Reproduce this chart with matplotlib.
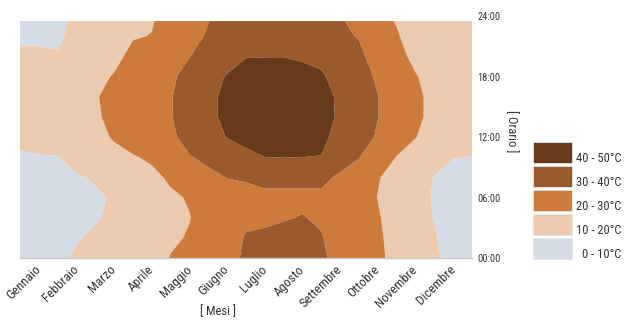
import numpy as np
import matplotlib
matplotlib.use("Agg")
import matplotlib.pyplot as plt
from matplotlib import font_manager
from matplotlib.patches import Rectangle

# pick a narrow sans if one is installed
installed = {(f.name, f.stretch) for f in font_manager.fontManager.ttflist}
names = {n for n, _ in installed}
for fam in ["Liberation Sans Narrow", "Roboto Condensed", "Open Sans Condensed"]:
    if fam in names:
        plt.rcParams["font.family"] = [fam, "DejaVu Sans"]
        break
else:
    plt.rcParams["font.family"] = ["DejaVu Sans"]
    if ("DejaVu Sans", "condensed") in installed:
        plt.rcParams["font.stretch"] = "condensed"

# Temperature (°C) by time of year and hour of day
month_pos = [0, 0.5, 1, 1.5, 2, 2.5, 3, 3.5, 4, 4.5, 5, 5.5, 6,
             6.5, 7, 7.5, 8, 8.5, 9, 9.5, 10, 10.5, 11, 11.5, 12]
hours = [0, 2, 4, 6, 8, 10, 12, 14, 16, 18, 20, 22, 23.5]

# one hourly profile per month position
temp_profiles = [
    [7, 6, 5, 5, 6, 9, 12, 14, 15, 13, 11, 9, 8],
    [7, 6, 5, 5, 6, 9.5, 13, 15, 16, 14, 11, 9, 8],
    [8, 7, 6, 6, 7, 9.8, 13, 15, 16, 14, 10.5, 9, 8.5],
    [11, 9.5, 8, 8, 9.5, 12, 15, 17, 17, 16, 14, 12, 11.5],
    [12, 11, 9.5, 9.3, 10.5, 14, 17, 19, 19.5, 18, 16, 14, 13],
    [13, 12, 11, 10.5, 12, 17, 21, 22, 22, 20.5, 18, 16, 15],
    [15, 14, 13.5, 14, 16, 19.5, 23, 25, 25, 24, 22, 19.5, 18],
    [16, 15.5, 15.5, 16.5, 18.5, 21, 25, 28, 28.5, 27, 24.5, 20.2, 19.5],
    [20.3, 19, 18.5, 19, 21, 25, 28.5, 29.5, 29.5, 28.5, 27, 24, 23],
    [21.5, 20.5, 19.8, 20.5, 24, 29.5, 33, 34, 34, 33, 29.8, 27, 26],
    [23, 22.5, 22.5, 24, 28, 32, 36.5, 38, 38, 37, 34, 31, 29.8],
    [28, 26.5, 25.5, 26.5, 30.2, 35, 40.3, 42, 42, 40.5, 37, 34, 33],
    [31, 30.6, 28.5, 28.5, 30.5, 37.5, 43, 45, 45, 43, 39.7, 36, 35],
    [32, 31, 29, 28.8, 31.5, 40, 45, 47, 47, 44, 39.8, 36, 35],
    [33, 32, 29.5, 28.8, 31.5, 40.2, 45.5, 47.5, 47.5, 44.5, 39.8, 36.5, 35.5],
    [33, 32, 30.3, 28.8, 31.5, 40, 45, 47, 46.5, 42.5, 39, 36, 35],
    [31.5, 30.5, 29, 28.8, 31.5, 39.8, 42, 42.5, 42, 41, 38, 35, 34],
    [27, 26.5, 26, 26.5, 29, 33, 37, 39, 39, 37, 34, 31.5, 30.5],
    [24, 23.5, 23, 23.5, 26, 30.3, 34, 36, 36, 34.5, 32, 29.5, 28.5],
    [22, 21.5, 20.8, 19.8, 20.5, 24, 29, 30.2, 30.2, 28.5, 26, 23.5, 22.5],
    [17, 16.5, 16, 16, 17, 19.8, 23.5, 25, 25, 24, 22.5, 20.8, 19.5],
    [14, 13, 12, 12, 13, 16, 20.3, 21.5, 21.5, 20.5, 18, 16, 15],
    [11, 10.5, 9.8, 9.5, 9.8, 12, 16, 18, 18, 17, 15, 13.5, 13],
    [8, 7.5, 7, 7, 8, 10.2, 14, 16, 16.5, 15.5, 14, 12.5, 12],
    [7.5, 7, 6.5, 6.5, 7.5, 9.8, 13.5, 15.5, 16, 15, 13.5, 12, 11.5],
]

months = ["Gennaio", "Febbraio", "Marzo", "Aprile", "Maggio", "Giugno",
          "Luglio", "Agosto", "Settembre", "Ottobre", "Novembre", "Dicembre"]
hour_ticks = [0, 6, 12, 18, 24]
hour_labels = ["00:00", "06:00", "12:00", "18:00", "24:00"]

levels = [0, 10, 20, 30, 40, 50]
band_labels = ["0 - 10°C", "10 - 20°C", "20 - 30°C", "30 - 40°C", "40 - 50°C"]
band_colors = ["#d6dce6", "#ebcab0", "#cd7b3d", "#9a5a2b", "#673a19"]

text_col = "#333333"
W, H = 628, 320

fig = plt.figure(figsize=(W / 100, H / 100), dpi=100)
ax = fig.add_axes([20 / W, 62 / H, 452 / W, 242 / H])

X, Y = np.meshgrid(month_pos, hours)
Z = np.array(temp_profiles).T
ax.contourf(X, Y, Z, levels=levels, colors=band_colors, antialiased=True)

ax.set_xlim(0, 12)
ax.set_ylim(0, 24)

ax.set_xticks(np.arange(len(months)) + 0.5)
ax.set_xticklabels(months, rotation=45, ha="right", va="center",
                   rotation_mode="anchor", fontsize=9.5, color=text_col)
ax.yaxis.tick_right()
ax.set_yticks(hour_ticks)
ax.set_yticklabels(hour_labels, fontsize=7.5, color=text_col)
ax.tick_params(axis="both", length=0)
ax.tick_params(axis="x", pad=7)
ax.tick_params(axis="y", pad=4)

for side in ["top", "left", "right"]:
    ax.spines[side].set_visible(False)
ax.spines["bottom"].set_color("#c8c8c8")
ax.spines["bottom"].set_linewidth(1)

fig.text(218 / W, 1 - 312 / H, "[ Mesi ]", ha="center", va="center",
         fontsize=9, color=text_col)
fig.text(511 / W, 1 - 131 / H, "[ Orario ]", ha="center", va="center",
         rotation=-90, fontsize=9, color=text_col)

# legend: warmest band on top
for i, (lab, col) in enumerate(zip(band_labels[::-1], band_colors[::-1])):
    top = 142 + i * 24
    fig.patches.append(Rectangle((533 / W, 1 - (top + 20.5) / H), 39 / W, 20.5 / H,
                                 transform=fig.transFigure, facecolor=col,
                                 edgecolor="#e6e6e6", linewidth=0.6))
    fig.text(621 / W, 1 - (top + 20.5) / H, lab, ha="right", va="baseline",
             fontsize=9, color=text_col)

fig.savefig("out.png", dpi=100)
